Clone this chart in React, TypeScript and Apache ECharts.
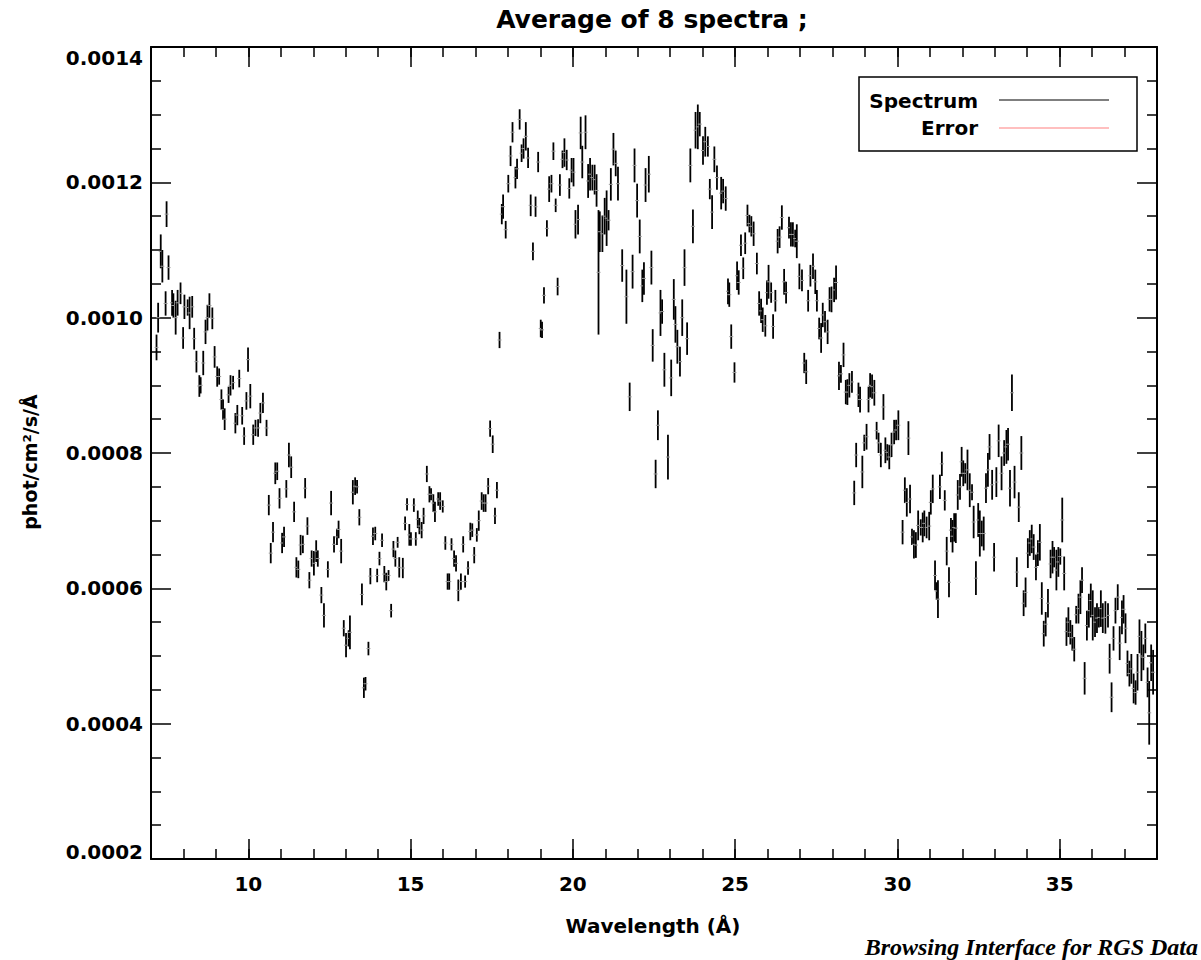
import React, { useEffect, useRef } from "react";
import * as echarts from "echarts";

// [wavelength (Å), flux (phot/cm²/s/Å), 1-sigma error]
const band7to10 = [
  [7.17, 9.56e-4, 1.9e-5], [7.22, 1.0e-3, 2.2e-5], [7.30, 1.098e-3, 2.5e-5], [7.35, 1.076e-3, 2.4e-5], [7.45, 1.021e-3, 1.8e-5],
  [7.48, 1.153e-3, 1.9e-5], [7.54, 1.074e-3, 1.8e-5], [7.65, 1.022e-3, 1.9e-5], [7.69, 1.018e-3, 1.8e-5], [7.76, 1.0e-3, 2.5e-5],
  [7.82, 1.022e-3, 1.9e-5], [7.91, 1.036e-3, 1.6e-5], [7.99, 9.70e-4, 1.6e-5], [8.03, 1.016e-3, 1.8e-5], [8.13, 1.015e-3, 1.2e-5],
  [8.19, 1.007e-3, 2.4e-5], [8.27, 1.016e-3, 1.6e-5], [8.33, 9.69e-4, 1.6e-5], [8.40, 9.35e-4, 1.6e-5], [8.49, 8.99e-4, 1.6e-5],
  [8.53, 9.0e-4, 1.2e-5], [8.61, 9.33e-4, 1.8e-5], [8.68, 9.79e-4, 1.8e-5], [8.74, 1.0e-3, 1.9e-5], [8.80, 1.018e-3, 1.8e-5],
  [8.89, 9.99e-4, 1.6e-5], [8.96, 9.42e-4, 1.6e-5], [9.04, 9.13e-4, 1.5e-5], [9.10, 9.13e-4, 1.2e-5], [9.17, 8.79e-4, 1.5e-5],
  [9.22, 8.64e-4, 1.5e-5], [9.27, 8.50e-4, 1.6e-5], [9.39, 8.86e-4, 1.2e-5], [9.45, 9.0e-4, 1.5e-5], [9.53, 9.04e-4, 1.0e-5],
  [9.60, 8.44e-4, 1.5e-5], [9.66, 8.56e-4, 1.5e-5], [9.72, 9.10e-4, 1.3e-5], [9.81, 8.55e-4, 1.3e-5], [9.87, 8.25e-4, 1.3e-5],
  [9.94, 8.77e-4, 1.3e-5], [9.99, 9.38e-4, 1.8e-5], [10.06, 8.84e-4, 1.8e-5], [10.15, 8.27e-4, 1.5e-5], [10.22, 8.37e-4, 1.2e-5],
  [10.30, 8.37e-4, 1.3e-5], [10.37, 8.59e-4, 1.5e-5], [10.45, 8.74e-4, 1.5e-5], [10.56, 8.37e-4, 1.2e-5],
];

const band10to15 = [
  [10.63, 7.23e-4, 1.5e-5], [10.69, 6.52e-4, 1.5e-5], [10.76, 6.83e-4, 1.5e-5], [10.83, 7.70e-4, 1.6e-5], [10.89, 7.73e-4, 1.3e-5],
  [10.96, 7.33e-4, 1.5e-5], [11.04, 6.67e-4, 1.5e-5], [11.10, 6.76e-4, 1.5e-5], [11.17, 7.47e-4, 1.3e-5], [11.25, 7.97e-4, 1.8e-5],
  [11.32, 7.79e-4, 1.6e-5], [11.41, 7.13e-4, 1.5e-5], [11.48, 6.31e-4, 1.5e-5], [11.54, 6.28e-4, 1.3e-5], [11.61, 6.64e-4, 1.5e-5],
  [11.68, 6.65e-4, 1.3e-5], [11.75, 7.48e-4, 1.5e-5], [11.82, 6.92e-4, 1.3e-5], [11.88, 6.12e-4, 1.2e-5], [11.95, 6.44e-4, 1.2e-5],
  [12.02, 6.37e-4, 1.8e-5], [12.09, 6.55e-4, 1.6e-5], [12.14, 6.44e-4, 1.2e-5], [12.25, 5.90e-4, 1.2e-5], [12.33, 5.60e-4, 1.8e-5],
  [12.45, 6.28e-4, 1.2e-5], [12.55, 7.26e-4, 1.8e-5], [12.64, 6.65e-4, 1.2e-5], [12.73, 6.76e-4, 1.2e-5], [12.78, 6.87e-4, 1.3e-5],
  [12.86, 6.55e-4, 1.8e-5], [12.94, 5.41e-4, 1.2e-5], [13.01, 5.16e-4, 1.8e-5], [13.09, 5.26e-4, 1.2e-5], [13.13, 5.35e-4, 2.5e-5],
  [13.22, 7.42e-4, 1.8e-5], [13.29, 7.51e-4, 1.3e-5], [13.35, 7.50e-4, 1.0e-5], [13.42, 7.05e-4, 1.2e-5], [13.50, 5.91e-4, 1.6e-5],
  [13.56, 4.53e-4, 1.5e-5], [13.61, 4.59e-4, 1.0e-5], [13.70, 5.11e-4, 1.0e-5], [13.76, 6.18e-4, 1.2e-5], [13.84, 6.77e-4, 1.3e-5],
  [13.91, 6.81e-4, 1.0e-5], [13.97, 6.19e-4, 1.0e-5], [14.04, 6.44e-4, 1.0e-5], [14.12, 6.71e-4, 1.0e-5], [14.19, 6.21e-4, 1.2e-5],
  [14.25, 6.10e-4, 1.3e-5], [14.32, 6.19e-4, 0.8e-5], [14.40, 5.67e-4, 1.0e-5], [14.47, 6.58e-4, 1.2e-5], [14.53, 6.44e-4, 1.2e-5],
  [14.60, 6.68e-4, 0.8e-5], [14.65, 6.31e-4, 1.5e-5],
];

const band15to18 = [
  [14.76, 6.30e-4, 1.5e-5], [14.83, 6.96e-4, 1.0e-5], [14.89, 7.24e-4, 0.9e-5], [14.96, 6.79e-4, 1.6e-5], [15.01, 6.73e-4, 1.0e-5],
  [15.10, 7.23e-4, 1.0e-5], [15.16, 6.73e-4, 1.0e-5], [15.22, 7.02e-4, 1.3e-5], [15.27, 6.92e-4, 1.2e-5], [15.34, 6.86e-4, 1.2e-5],
  [15.40, 7.07e-4, 1.2e-5], [15.50, 7.69e-4, 1.2e-5], [15.58, 7.39e-4, 1.2e-5], [15.63, 7.39e-4, 0.9e-5], [15.70, 7.26e-4, 1.3e-5],
  [15.75, 7.13e-4, 1.5e-5], [15.85, 7.32e-4, 1.0e-5], [15.91, 7.29e-4, 1.3e-5], [15.99, 7.21e-4, 0.9e-5], [16.07, 6.67e-4, 1.0e-5],
  [16.14, 6.10e-4, 1.2e-5], [16.19, 6.10e-4, 1.2e-5], [16.26, 6.65e-4, 0.9e-5], [16.34, 6.44e-4, 1.2e-5], [16.40, 6.37e-4, 1.2e-5],
  [16.47, 5.97e-4, 1.6e-5], [16.55, 6.10e-4, 1.2e-5], [16.62, 6.65e-4, 1.2e-5], [16.68, 6.10e-4, 0.9e-5], [16.77, 6.30e-4, 1.0e-5],
  [16.84, 6.84e-4, 1.3e-5], [16.90, 6.86e-4, 1.0e-5], [16.96, 6.49e-4, 1.2e-5], [17.04, 6.79e-4, 1.0e-5], [17.10, 7.0e-4, 1.5e-5],
  [17.19, 7.29e-4, 1.3e-5], [17.25, 7.26e-4, 1.3e-5], [17.31, 7.26e-4, 1.3e-5], [17.39, 7.51e-4, 1.2e-5], [17.45, 8.36e-4, 1.2e-5],
  [17.53, 8.13e-4, 1.3e-5], [17.60, 7.07e-4, 1.2e-5], [17.66, 7.45e-4, 1.2e-5],
];

const band18to21 = [
  [17.74, 9.67e-4, 1.2e-5], [17.81, 1.153e-3, 1.5e-5], [17.85, 1.164e-3, 1.8e-5], [17.93, 1.130e-3, 1.3e-5], [18.01, 1.198e-3, 1.3e-5],
  [18.08, 1.239e-3, 1.5e-5], [18.14, 1.274e-3, 1.5e-5], [18.23, 1.207e-3, 1.6e-5], [18.28, 1.220e-3, 1.5e-5], [18.36, 1.293e-3, 1.5e-5],
  [18.42, 1.243e-3, 1.3e-5], [18.48, 1.250e-3, 1.5e-5], [18.55, 1.268e-3, 2.1e-5], [18.62, 1.236e-3, 1.5e-5], [18.70, 1.166e-3, 1.6e-5],
  [18.77, 1.098e-3, 1.3e-5], [18.85, 1.164e-3, 1.5e-5], [18.93, 1.230e-3, 1.5e-5], [19.01, 9.84e-4, 1.3e-5], [19.05, 9.82e-4, 1.2e-5],
  [19.11, 1.033e-3, 1.2e-5], [19.20, 1.132e-3, 1.2e-5], [19.27, 1.190e-3, 1.9e-5], [19.34, 1.198e-3, 1.3e-5], [19.40, 1.246e-3, 1.3e-5],
  [19.47, 1.166e-3, 1.0e-5], [19.53, 1.046e-3, 1.3e-5], [19.60, 1.196e-3, 1.6e-5], [19.68, 1.234e-3, 1.3e-5], [19.74, 1.244e-3, 2.1e-5],
  [19.81, 1.233e-3, 1.5e-5], [19.89, 1.191e-3, 1.5e-5], [19.96, 1.218e-3, 1.8e-5], [20.02, 1.215e-3, 2.1e-5], [20.08, 1.138e-3, 2.1e-5],
  [20.16, 1.145e-3, 2.2e-5], [20.24, 1.273e-3, 2.4e-5], [20.29, 1.230e-3, 2.4e-5], [20.39, 1.274e-3, 2.5e-5], [20.47, 1.202e-3, 2.5e-5],
  [20.53, 1.212e-3, 2.4e-5], [20.60, 1.207e-3, 1.9e-5], [20.67, 1.204e-3, 2.2e-5], [20.73, 1.188e-3, 2.4e-5], [20.79, 1.067e-3, 9.2e-5],
  [20.83, 1.127e-3, 3.0e-5], [20.91, 1.124e-3, 2.7e-5], [20.98, 1.150e-3, 2.7e-5], [21.04, 1.147e-3, 4.1e-5], [21.10, 1.144e-3, 1.5e-5],
  [21.17, 1.197e-3, 2.4e-5], [21.25, 1.249e-3, 2.4e-5], [21.32, 1.228e-3, 1.9e-5], [21.39, 1.198e-3, 2.5e-5],
];

const band21to24 = [
  [21.52, 1.077e-3, 2.4e-5], [21.65, 1.031e-3, 4.0e-5], [21.75, 8.83e-4, 2.1e-5], [21.84, 1.068e-3, 2.5e-5], [21.90, 1.225e-3, 2.5e-5],
  [21.98, 1.173e-3, 2.5e-5], [22.06, 1.120e-3, 2.5e-5], [22.14, 1.047e-3, 2.4e-5], [22.19, 1.058e-3, 2.4e-5], [22.24, 1.196e-3, 2.5e-5],
  [22.34, 1.212e-3, 2.7e-5], [22.42, 1.074e-3, 2.5e-5], [22.46, 9.59e-4, 2.4e-5], [22.55, 7.69e-4, 2.1e-5], [22.62, 8.41e-4, 2.2e-5],
  [22.70, 1.007e-3, 3.4e-5], [22.75, 1.009e-3, 1.8e-5], [22.82, 9.23e-4, 2.5e-5], [22.93, 7.94e-4, 3.3e-5], [23.03, 9.11e-4, 2.7e-5],
  [23.11, 1.027e-3, 3.0e-5], [23.16, 9.90e-4, 2.7e-5], [23.22, 9.57e-4, 2.5e-5], [23.30, 9.35e-4, 2.2e-5], [23.37, 1.0e-3, 2.7e-5],
  [23.44, 1.074e-3, 2.7e-5], [23.52, 9.69e-4, 2.4e-5], [23.62, 1.225e-3, 2.5e-5], [23.70, 1.135e-3, 2.5e-5], [23.78, 1.277e-3, 2.7e-5],
  [23.85, 1.282e-3, 3.3e-5], [23.91, 1.286e-3, 1.8e-5], [24.01, 1.247e-3, 2.1e-5], [24.08, 1.260e-3, 2.2e-5], [24.16, 1.253e-3, 1.5e-5],
  [24.22, 1.190e-3, 1.5e-5], [24.29, 1.156e-3, 2.5e-5], [24.36, 1.234e-3, 1.9e-5], [24.44, 1.207e-3, 1.8e-5],
];

const band24to30 = [
  [24.57, 1.184e-3, 2.4e-5], [24.63, 1.187e-3, 1.8e-5], [24.71, 1.176e-3, 1.8e-5], [24.78, 1.039e-3, 1.9e-5], [24.82, 1.034e-3, 1.8e-5],
  [24.88, 9.72e-4, 1.8e-5], [24.98, 9.19e-4, 1.5e-5], [25.06, 1.062e-3, 2.1e-5], [25.11, 1.052e-3, 1.8e-5], [25.18, 1.107e-3, 1.6e-5],
  [25.25, 1.073e-3, 1.6e-5], [25.31, 1.110e-3, 1.6e-5], [25.38, 1.151e-3, 1.6e-5], [25.44, 1.139e-3, 1.3e-5], [25.50, 1.135e-3, 1.5e-5],
  [25.57, 1.124e-3, 1.8e-5], [25.67, 1.080e-3, 1.6e-5], [25.74, 1.021e-3, 1.8e-5], [25.80, 1.010e-3, 1.8e-5], [25.85, 9.97e-4, 1.8e-5],
  [25.93, 9.88e-4, 1.6e-5], [25.98, 1.037e-3, 1.8e-5], [26.03, 1.053e-3, 2.5e-5], [26.11, 1.037e-3, 1.5e-5], [26.17, 9.87e-4, 1.8e-5],
  [26.24, 1.025e-3, 1.6e-5], [26.31, 1.113e-3, 1.8e-5], [26.37, 1.119e-3, 1.6e-5], [26.44, 1.148e-3, 1.8e-5], [26.51, 1.053e-3, 1.9e-5],
  [26.57, 1.037e-3, 1.6e-5], [26.66, 1.133e-3, 1.6e-5], [26.72, 1.123e-3, 1.8e-5], [26.78, 1.123e-3, 1.8e-5], [26.85, 1.117e-3, 1.3e-5],
  [26.90, 1.113e-3, 2.5e-5], [26.98, 1.061e-3, 1.9e-5], [27.06, 1.055e-3, 1.6e-5], [27.13, 9.33e-4, 1.5e-5], [27.19, 9.20e-4, 1.8e-5],
  [27.25, 1.025e-3, 1.6e-5], [27.32, 1.062e-3, 1.6e-5], [27.40, 1.076e-3, 1.9e-5], [27.47, 1.053e-3, 1.8e-5], [27.52, 1.025e-3, 1.6e-5],
  [27.59, 9.84e-4, 1.6e-5], [27.65, 9.70e-4, 2.2e-5], [27.70, 1.004e-3, 1.8e-5], [27.77, 9.94e-4, 1.6e-5], [27.85, 9.79e-4, 1.8e-5],
  [27.91, 1.027e-3, 1.8e-5], [27.97, 1.027e-3, 1.9e-5], [28.05, 1.041e-3, 1.8e-5], [28.11, 1.052e-3, 2.5e-5], [28.20, 9.14e-4, 2.1e-5],
  [28.26, 9.17e-4, 1.3e-5], [28.34, 9.45e-4, 1.8e-5], [28.41, 8.90e-4, 1.8e-5], [28.46, 8.90e-4, 1.9e-5], [28.52, 9.0e-4, 1.8e-5],
  [28.60, 9.05e-4, 1.6e-5], [28.67, 7.41e-4, 1.8e-5], [28.73, 7.97e-4, 1.8e-5], [28.80, 8.86e-4, 1.8e-5], [28.85, 8.79e-4, 1.9e-5],
  [28.92, 7.72e-4, 2.4e-5], [28.98, 8.15e-4, 1.2e-5], [29.05, 8.24e-4, 1.9e-5], [29.11, 8.79e-4, 1.9e-5], [29.16, 9.0e-4, 1.8e-5],
  [29.22, 8.98e-4, 1.8e-5], [29.29, 8.89e-4, 1.9e-5], [29.36, 8.33e-4, 1.3e-5], [29.42, 8.15e-4, 1.5e-5], [29.49, 7.97e-4, 1.8e-5],
  [29.57, 8.68e-4, 1.9e-5], [29.63, 8.04e-4, 1.9e-5], [29.69, 8.01e-4, 1.2e-5], [29.75, 7.94e-4, 1.8e-5], [29.82, 8.12e-4, 1.8e-5],
  [29.90, 8.31e-4, 1.8e-5], [29.96, 8.34e-4, 1.5e-5], [30.03, 8.41e-4, 2.2e-5],
];

const band30to38 = [
  [30.16, 6.83e-4, 1.8e-5], [30.23, 7.45e-4, 1.9e-5], [30.29, 7.27e-4, 2.1e-5], [30.34, 8.22e-4, 2.5e-5], [30.39, 7.32e-4, 2.1e-5],
  [30.45, 6.76e-4, 1.2e-5], [30.51, 6.65e-4, 2.1e-5], [30.57, 6.64e-4, 1.9e-5], [30.64, 6.93e-4, 2.2e-5], [30.72, 6.90e-4, 1.2e-5],
  [30.78, 6.90e-4, 2.2e-5], [30.83, 6.96e-4, 1.9e-5], [30.90, 6.90e-4, 1.6e-5], [30.98, 6.92e-4, 2.1e-5], [31.03, 7.27e-4, 1.8e-5],
  [31.09, 7.47e-4, 2.1e-5], [31.16, 6.19e-4, 2.2e-5], [31.21, 5.96e-4, 1.3e-5], [31.25, 5.84e-4, 2.8e-5], [31.31, 7.50e-4, 1.8e-5],
  [31.37, 7.84e-4, 1.8e-5], [31.46, 7.30e-4, 1.5e-5], [31.52, 6.55e-4, 2.1e-5], [31.59, 6.09e-4, 2.2e-5], [31.65, 6.86e-4, 1.8e-5],
  [31.70, 6.77e-4, 2.4e-5], [31.75, 6.90e-4, 2.1e-5], [31.80, 6.89e-4, 2.2e-5], [31.86, 7.38e-4, 2.2e-5], [31.93, 7.50e-4, 1.9e-5],
  [31.98, 7.87e-4, 2.2e-5], [32.03, 7.70e-4, 1.9e-5], [32.09, 7.70e-4, 1.5e-5], [32.16, 7.75e-4, 3.0e-5], [32.23, 7.45e-4, 2.5e-5],
  [32.30, 7.42e-4, 1.2e-5], [32.35, 6.98e-4, 2.4e-5], [32.42, 6.15e-4, 2.5e-5], [32.49, 7.01e-4, 2.5e-5], [32.54, 6.81e-4, 3.4e-5],
  [32.60, 6.81e-4, 1.9e-5], [32.66, 6.81e-4, 2.5e-5], [32.73, 7.48e-4, 2.2e-5], [32.79, 7.75e-4, 2.5e-5], [32.84, 8.09e-4, 1.9e-5],
  [32.92, 7.53e-4, 2.2e-5], [32.98, 6.46e-4, 2.1e-5], [33.05, 7.57e-4, 2.2e-5], [33.12, 8.18e-4, 2.4e-5], [33.21, 7.70e-4, 2.5e-5],
  [33.29, 8.0e-4, 1.9e-5], [33.36, 8.09e-4, 2.5e-5], [33.41, 8.13e-4, 2.4e-5], [33.47, 7.48e-4, 2.7e-5], [33.53, 8.89e-4, 2.7e-5],
  [33.61, 7.57e-4, 2.4e-5], [33.68, 6.24e-4, 2.2e-5], [33.74, 7.20e-4, 2.2e-5], [33.82, 8.0e-4, 2.5e-5], [33.89, 5.78e-4, 1.9e-5],
  [33.95, 5.94e-4, 2.2e-5], [34.02, 6.52e-4, 2.2e-5], [34.08, 6.67e-4, 1.9e-5], [34.14, 6.73e-4, 2.1e-5], [34.20, 6.61e-4, 1.9e-5],
  [34.27, 6.31e-4, 1.9e-5], [34.33, 6.52e-4, 1.9e-5], [34.39, 6.68e-4, 2.7e-5], [34.45, 5.85e-4, 2.4e-5], [34.51, 5.33e-4, 1.9e-5],
  [34.57, 5.47e-4, 1.8e-5], [34.64, 5.78e-4, 2.1e-5], [34.72, 6.36e-4, 2.1e-5], [34.78, 6.46e-4, 2.4e-5], [34.83, 6.46e-4, 1.5e-5],
  [34.90, 6.27e-4, 3.0e-5], [34.96, 6.39e-4, 2.2e-5], [35.02, 6.47e-4, 1.2e-5], [35.08, 7.01e-4, 3.3e-5], [35.14, 6.22e-4, 2.5e-5],
  [35.21, 5.36e-4, 2.1e-5], [35.27, 5.50e-4, 2.2e-5], [35.33, 5.35e-4, 1.8e-5], [35.39, 5.27e-4, 1.9e-5], [35.45, 5.10e-4, 1.8e-5],
  [35.51, 5.61e-4, 1.3e-5], [35.58, 5.70e-4, 2.2e-5], [35.64, 5.87e-4, 2.5e-5], [35.69, 6.12e-4, 1.9e-5], [35.77, 4.67e-4, 2.4e-5],
  [35.84, 5.45e-4, 2.2e-5], [35.90, 5.67e-4, 2.5e-5], [35.96, 5.82e-4, 2.5e-5], [36.02, 5.60e-4, 3.7e-5], [36.09, 5.50e-4, 2.2e-5],
  [36.15, 5.56e-4, 2.2e-5], [36.21, 5.57e-4, 1.5e-5], [36.27, 5.70e-4, 2.7e-5], [36.33, 5.56e-4, 2.2e-5], [36.41, 5.57e-4, 2.4e-5],
  [36.49, 5.60e-4, 1.8e-5], [36.54, 4.96e-4, 2.2e-5], [36.60, 4.39e-4, 2.2e-5], [36.66, 5.26e-4, 1.8e-5], [36.72, 5.67e-4, 1.9e-5],
  [36.79, 5.87e-4, 1.9e-5], [36.85, 5.19e-4, 2.5e-5], [36.92, 5.57e-4, 2.5e-5], [36.97, 5.69e-4, 2.1e-5], [37.03, 5.41e-4, 2.2e-5],
  [37.09, 4.89e-4, 1.9e-5], [37.15, 4.74e-4, 1.9e-5], [37.21, 4.81e-4, 2.2e-5], [37.28, 4.52e-4, 2.2e-5], [37.34, 4.46e-4, 1.8e-5],
  [37.40, 4.76e-4, 2.7e-5], [37.46, 5.29e-4, 2.5e-5], [37.52, 5.0e-4, 3.7e-5], [37.58, 4.98e-4, 1.9e-5], [37.64, 5.26e-4, 2.2e-5],
  [37.71, 4.61e-4, 2.2e-5], [37.76, 4.16e-4, 4.7e-5], [37.82, 4.90e-4, 2.7e-5], [37.88, 4.76e-4, 3.3e-5],
];

const xMajorTicks = [10, 15, 20, 25, 30, 35];
const xRange = [7, 38];
const yRange = [0.0002, 0.0014];
const yStep = 0.0002;

const titleText = "Average of 8 spectra ;";
const xName = "Wavelength (Å)";
const yName = "phot/cm²/s/Å";
const legendNames = ["Spectrum", "Error"];
const footerText = "Browsing Interface for RGS Data";

const FONT = "DejaVu Sans";

export default function App() {
  const ref = useRef<HTMLDivElement>(null);

  useEffect(() => {
    document.body.style.margin = "0";
    const chart = echarts.init(ref.current!, null, { renderer: "svg" });
    const data = [
      ...band7to10, ...band10to15, ...band15to18, ...band18to21,
      ...band21to24, ...band24to30, ...band30to38,
    ];

    const grid = { left: 151, right: 44, top: 47, bottom: 101 };
    const labelStyle = { fontFamily: FONT, fontWeight: "bold" as const, fontSize: 20, color: "#000" };

    const xBase = (pos: "top" | "bottom", showLine: boolean, showLabel: boolean) => ({
      type: "value",
      position: pos,
      min: xRange[0],
      max: xRange[1],
      gridIndex: 0,
      axisLine: { show: showLine, onZero: false, lineStyle: { color: "#000", width: 2 } },
      splitLine: { show: false },
      axisTick: { show: true, inside: true, length: 20, customValues: xMajorTicks, lineStyle: { color: "#000", width: 1.5 } },
      axisLabel: { show: showLabel, customValues: xMajorTicks, margin: 15, ...labelStyle },
    });
    const xMinor = (pos: "top" | "bottom") => ({
      type: "value",
      position: pos,
      min: xRange[0],
      max: xRange[1],
      interval: 1,
      gridIndex: 0,
      axisLine: { show: false, onZero: false },
      splitLine: { show: false },
      axisTick: { show: true, inside: true, length: 10, lineStyle: { color: "#000", width: 1.5 } },
      axisLabel: { show: false },
    });

    const yBase = (pos: "left" | "right", showLabel: boolean) => ({
      type: "value",
      position: pos,
      min: yRange[0],
      max: yRange[1],
      interval: yStep,
      gridIndex: 0,
      axisLine: { show: true, onZero: false, lineStyle: { color: "#000", width: 2 } },
      splitLine: { show: false },
      axisTick: { show: true, inside: true, length: 20, lineStyle: { color: "#000", width: 1.5 } },
      minorTick: { show: true, splitNumber: 4, length: 10, lineStyle: { color: "#000", width: 1.5 } },
      axisLabel: {
        show: showLabel,
        margin: 8,
        ...labelStyle,
        formatter: (v: number) => {
          const s = v.toFixed(4);
          if (Math.abs(v - yRange[1]) < 1e-9) return `{t|${s}}`;
          if (Math.abs(v - yRange[0]) < 1e-9) return `{b|${s}}`;
          return s;
        },
        rich: {
          t: { ...labelStyle, padding: [22, 0, 0, 0] },
          b: { ...labelStyle, padding: [0, 0, 14, 0] },
        },
      },
    });

    chart.setOption({
      animation: false,
      backgroundColor: "#fff",
      grid,
      xAxis: [xBase("bottom", true, true), xMinor("bottom"), xBase("top", true, false), xMinor("top")],
      yAxis: [yBase("left", true), yBase("right", false)],
      series: [
        {
          type: "custom",
          name: legendNames[0],
          xAxisIndex: 0,
          yAxisIndex: 0,
          clip: true,
          data,
          renderItem: (_params: any, api: any) => {
            const x = api.value(0);
            const y = api.value(1);
            const e = api.value(2);
            const top = api.coord([x, y + e]);
            const bot = api.coord([x, y - e]);
            const mid = api.coord([x, y]);
            return {
              type: "group",
              children: [
                { type: "line", shape: { x1: top[0], y1: top[1], x2: bot[0], y2: bot[1] }, style: { stroke: "#000", lineWidth: 1.8 } },
                { type: "line", shape: { x1: mid[0] - 2, y1: mid[1], x2: mid[0] + 2, y2: mid[1] }, style: { stroke: "#9a9a9a", lineWidth: 1 } },
              ],
            };
          },
        },
      ],
      graphic: [
        {
          type: "text", x: 652, y: 19,
          style: { text: titleText, fontFamily: FONT, fontSize: 25, fontWeight: "bold", fill: "#000", textAlign: "center", textVerticalAlign: "middle" },
        },
        {
          type: "text", x: 653, y: 926,
          style: { text: xName, fontFamily: FONT, fontSize: 20, fontWeight: "bold", fill: "#000", textAlign: "center", textVerticalAlign: "middle" },
        },
        {
          type: "text", x: 30, y: 462, rotation: Math.PI / 2,
          style: { text: yName, fontFamily: FONT, fontSize: 19, fontWeight: "bold", fill: "#000", textAlign: "center", textVerticalAlign: "middle" },
        },
        {
          type: "rect", shape: { x: 859, y: 77, width: 278, height: 74 },
          style: { fill: "#fff", stroke: "#000", lineWidth: 1.5 },
        },
        {
          type: "text", x: 978, y: 101,
          style: { text: legendNames[0], fontFamily: FONT, fontSize: 20, fontWeight: "bold", fill: "#000", textAlign: "right", textVerticalAlign: "middle" },
        },
        {
          type: "text", x: 978, y: 128,
          style: { text: legendNames[1], fontFamily: FONT, fontSize: 20, fontWeight: "bold", fill: "#000", textAlign: "right", textVerticalAlign: "middle" },
        },
        { type: "line", shape: { x1: 999, y1: 100, x2: 1109, y2: 100 }, style: { stroke: "#000", lineWidth: 1.2 } },
        { type: "line", shape: { x1: 999, y1: 128, x2: 1109, y2: 128 }, style: { stroke: "#ff8080", lineWidth: 1.2 } },
        {
          type: "text", x: 1198, y: 947,
          style: { text: footerText, fontFamily: "Liberation Serif", fontSize: 24, fontWeight: "bold", fontStyle: "italic", fill: "#000", textAlign: "right", textVerticalAlign: "middle" },
        },
      ],
    });

    return () => chart.dispose();
  }, []);

  return <div ref={ref} style={{ width: 1201, height: 960, background: "#fff" }} />;
}
